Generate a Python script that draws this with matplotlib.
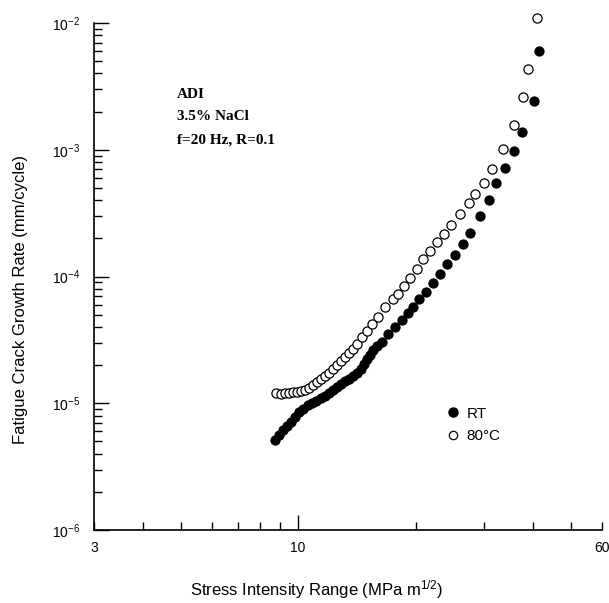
import matplotlib
matplotlib.use("Agg")
import matplotlib.pyplot as plt
from matplotlib.lines import Line2D

plt.rcParams["font.family"] = ["Liberation Sans", "DejaVu Sans"]
plt.rcParams["mathtext.fontset"] = "custom"
plt.rcParams["mathtext.rm"] = "Liberation Sans"
plt.rcParams["mathtext.it"] = "Liberation Sans:italic"

# RT (filled circles)
rt_dk = [8.72, 8.93, 9.14, 9.36, 9.58, 9.81, 10.05, 10.29, 10.60, 10.85,
         11.11, 11.44, 11.71, 11.99, 12.28, 12.57, 12.87, 13.18, 13.49, 13.81,
         14.14, 14.48, 14.74, 15.01, 15.27, 15.55, 15.92, 16.39, 16.98, 17.70,
         18.45, 19.11, 19.68, 20.39, 21.25, 22.14, 23.08, 24.05, 25.22, 26.42,
         27.54, 29.21, 30.80, 32.10, 33.85, 35.70, 37.42, 40.18, 41.37]
rt_rate = [5.13e-6, 5.62e-6, 6.15e-6, 6.61e-6, 7.11e-6, 7.79e-6, 8.53e-6, 9.01e-6, 9.69e-6, 1.005e-5,
           1.042e-5, 1.10e-5, 1.14e-5, 1.20e-5, 1.27e-5, 1.34e-5, 1.42e-5, 1.50e-5, 1.55e-5, 1.64e-5,
           1.73e-5, 1.86e-5, 2.04e-5, 2.23e-5, 2.40e-5, 2.63e-5, 2.83e-5, 3.04e-5, 3.52e-5, 4.00e-5,
           4.54e-5, 5.15e-5, 5.75e-5, 6.64e-5, 7.55e-5, 8.89e-5, 1.047e-4, 1.255e-4, 1.478e-4, 1.805e-4,
           2.20e-4, 3.00e-4, 4.01e-4, 5.47e-4, 7.18e-4, 9.77e-4, 1.38e-3, 2.42e-3, 6.01e-3]

# 80 C (open circles)
hot_dk = [8.77, 9.04, 9.25, 9.47, 9.70, 9.93, 10.17, 10.41, 10.66, 10.91,
          11.17, 11.44, 11.71, 11.99, 12.28, 12.57, 12.87, 13.18, 13.49, 13.81,
          14.14, 14.57, 15.01, 15.45, 16.01, 16.68, 17.49, 18.01, 18.66, 19.34,
          20.15, 20.87, 21.75, 22.68, 23.63, 24.62, 25.97, 27.38, 28.37, 29.91,
          31.36, 33.45, 35.70, 37.65, 38.78, 40.88]
hot_rate = [1.20e-5, 1.18e-5, 1.20e-5, 1.20e-5, 1.23e-5, 1.23e-5, 1.25e-5, 1.27e-5, 1.32e-5, 1.39e-5,
            1.47e-5, 1.55e-5, 1.64e-5, 1.73e-5, 1.86e-5, 2.00e-5, 2.15e-5, 2.32e-5, 2.49e-5, 2.68e-5,
            2.93e-5, 3.33e-5, 3.72e-5, 4.22e-5, 4.79e-5, 5.75e-5, 6.64e-5, 7.28e-5, 8.41e-5, 9.73e-5,
            1.146e-4, 1.374e-4, 1.589e-4, 1.871e-4, 2.16e-4, 2.55e-4, 3.11e-4, 3.80e-4, 4.48e-4, 5.47e-4,
            7.05e-4, 1.014e-3, 1.567e-3, 2.61e-3, 4.34e-3, 1.095e-2]

x_minor = [3, 4, 5, 6, 7, 8, 9, 20, 30, 40, 50, 60]
x_minor_labels = ["3", "", "", "", "", "", "", "", "", "", "", "60"]
y_major = [1e-6, 1e-5, 1e-4, 1e-3, 1e-2]
y_major_labels = [r"$\mathregular{10^{-6}}$", r"$\mathregular{10^{-5}}$", r"$\mathregular{10^{-4}}$",
                  r"$\mathregular{10^{-3}}$", r"$\mathregular{10^{-2}}$"]

fig = plt.figure(figsize=(6.09, 6.03), dpi=100)
ax = fig.add_axes([94 / 609, 73 / 603, 508 / 609, 507 / 603])

ax.plot(rt_dk, rt_rate, "o", ms=6.6, mfc="black", mec="black", mew=0.8, clip_on=False)
ax.plot(hot_dk, hot_rate, "o", ms=6.6, mfc="white", mec="black", mew=0.9, clip_on=False)

ax.set_xscale("log")
ax.set_yscale("log")
ax.set_xlim(3, 60)
ax.set_ylim(1e-6, 1e-2)

ax.spines["top"].set_visible(False)
ax.spines["right"].set_visible(False)
for side in ("left", "bottom"):
    ax.spines[side].set_linewidth(1.2)

ax.set_xticks([10], labels=["10"])
ax.set_xticks(x_minor, labels=x_minor_labels, minor=True)
ax.set_yticks(y_major, labels=y_major_labels)
ax.tick_params(which="major", direction="in", length=11, width=1, labelsize=10, pad=8)
ax.tick_params(which="minor", direction="in", length=5.5, width=1, labelsize=10, pad=8)
ax.tick_params(axis="y", which="both", pad=10)

fig.text(317 / 609, 1 - 590 / 603, r"Stress Intensity Range (MPa m$^{\mathregular{1/2}}$)",
         ha="center", va="center", fontsize=12)
fig.text(21 / 609, 1 - 300 / 603, "Fatigue Crack Growth Rate (mm/cycle)",
         ha="center", va="center", rotation=90, fontsize=12)

for i, line in enumerate(["ADI", "3.5% NaCl", "f=20 Hz, R=0.1"]):
    fig.text(177 / 609, 1 - (94 + 23 * i) / 603, line, ha="left", va="center",
             fontsize=11, fontweight="bold", family="Liberation Serif")

handles = [
    Line2D([], [], ls="none", marker="o", ms=6.5, mfc="black", mec="black"),
    Line2D([], [], ls="none", marker="o", ms=6, mfc="white", mec="black", mew=0.9),
]
ax.legend(handles, ["RT", "80°C"], loc="center left", frameon=False, fontsize=11,
          handlelength=0.8, handletextpad=0.5, labelspacing=0.55, borderpad=0,
          bbox_to_anchor=(439 / 609, 1 - 425 / 603), bbox_transform=fig.transFigure)

fig.savefig("out.png", dpi=100)
